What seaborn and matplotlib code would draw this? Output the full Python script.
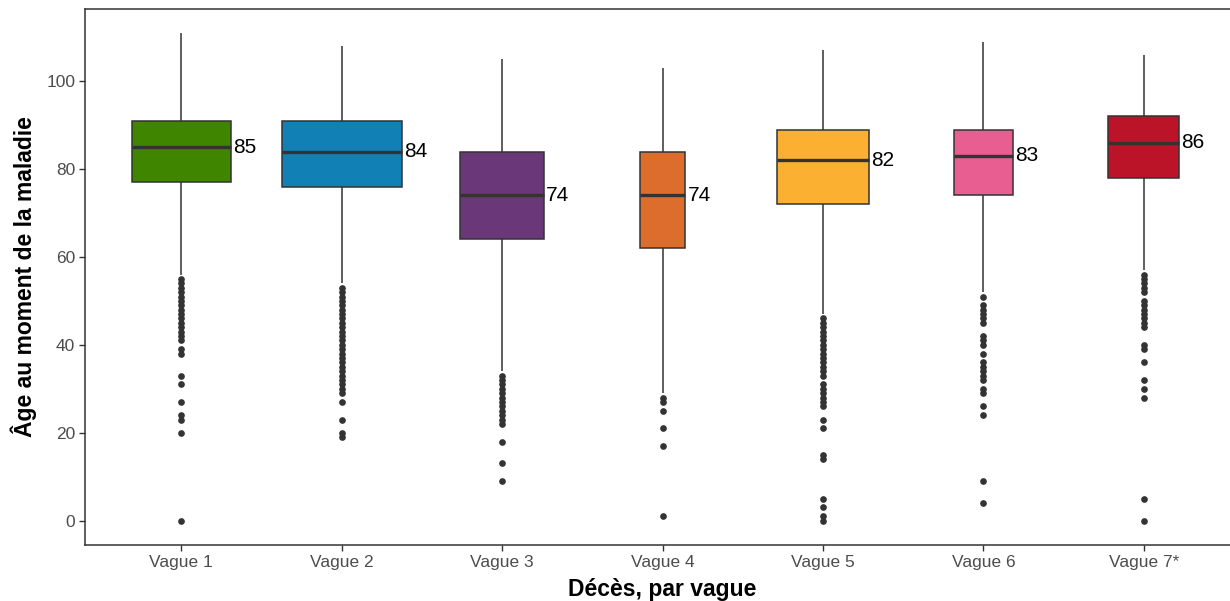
import numpy as np
import pandas as pd
import matplotlib
matplotlib.use("Agg")
import matplotlib.pyplot as plt
import seaborn as sns

# Waves and their box summaries (ages)
waves = ["Vague 1", "Vague 2", "Vague 3", "Vague 4", "Vague 5", "Vague 6", "Vague 7*"]
q1 = [77, 76, 64, 62, 72, 74, 78]
median = [85, 84, 74, 74, 82, 83, 86]
q3 = [91, 91, 84, 84, 89, 89, 92]
whisker_low = [56, 54, 34, 29, 47, 52, 57]
whisker_high = [111, 108, 105, 103, 107, 109, 106]

# Outlying ages per wave
outliers_1 = list(range(41, 56)) + [39, 38, 33, 31, 27, 24, 23, 20, 0]
outliers_2 = list(range(29, 54)) + [27, 23, 20, 19]
outliers_3 = list(range(22, 34)) + [18, 13, 9]
outliers_4 = [28, 27, 25, 21, 17, 1]
outliers_5 = list(range(33, 47)) + list(range(26, 32)) + [23, 21, 15, 14, 5, 3, 1, 0]
outliers_6 = [51] + list(range(45, 50)) + [42, 41, 40, 38] + list(range(32, 37)) + [30, 29, 26, 24, 9, 4]
outliers_7 = list(range(52, 57)) + list(range(44, 51)) + [40, 39, 36, 32, 30, 28, 5, 0]
outliers = [outliers_1, outliers_2, outliers_3, outliers_4, outliers_5, outliers_6, outliers_7]

# Relative box widths (proportional to group size)
box_widths = [0.62, 0.75, 0.52, 0.285, 0.57, 0.37, 0.44]
colors = ["#3F8500", "#1180B4", "#6A3878", "#DD6D2D", "#FBB031", "#E85E91", "#BB1429"]


def sample_from_summary(lo, a, m, b, hi, extra, n=2000):
    """Build a sample whose box-plot statistics equal the given summary."""
    vals = [lo] + [a] * n + [m] * n + [b] * n + [hi] + list(extra)
    return np.array(vals, dtype=float)


frames = []
for i, w in enumerate(waves):
    v = sample_from_summary(whisker_low[i], q1[i], median[i], q3[i], whisker_high[i], outliers[i])
    frames.append(pd.DataFrame({"vague": w, "age": v}))
df = pd.concat(frames, ignore_index=True)

sns.set_theme(style="white")
plt.rcParams["font.family"] = ["Liberation Sans", "DejaVu Sans"]

fig = plt.figure(figsize=(12.3, 6.01), dpi=100)
ax = fig.add_axes([85 / 1230, 56 / 601, 1155 / 1230, 536.5 / 601])

line_col = "#333333"
for i, w in enumerate(waves):
    sns.boxplot(
        data=df[df["vague"] == w], x="vague", y="age", order=waves,
        width=box_widths[i], color=colors[i], saturation=1,
        linecolor=line_col, linewidth=1.1, whis=1.5, showcaps=False,
        medianprops={"linewidth": 2.4, "color": line_col},
        flierprops={"marker": "o", "markersize": 3.8,
                    "markerfacecolor": line_col, "markeredgecolor": line_col},
        ax=ax,
    )

# Median value labels beside each box
for i, w in enumerate(waves):
    ax.text(i + box_widths[i] / 2 + 0.016, median[i], f"{median[i]}",
            ha="left", va="center", fontsize=15, color="black")

ax.set_xlim(-0.6, 6.6)
ax.set_ylim(-5.55, 116.55)
ax.set_yticks([0, 20, 40, 60, 80, 100])
ax.set_xlabel("Décès, par vague", fontsize=16.5, fontweight="bold", color="black", labelpad=6)
ax.set_ylabel("Âge au moment de la maladie", fontsize=16.5, fontweight="bold", color="black", labelpad=6.5)
ax.tick_params(axis="both", which="both", length=4, width=1, color=line_col,
               labelsize=12.5, labelcolor="#4D4D4D", pad=3,
               bottom=True, left=True)
for s in ax.spines.values():
    s.set_color(line_col)
    s.set_linewidth(1.1)
ax.grid(False)

fig.savefig("out.png", dpi=100)
